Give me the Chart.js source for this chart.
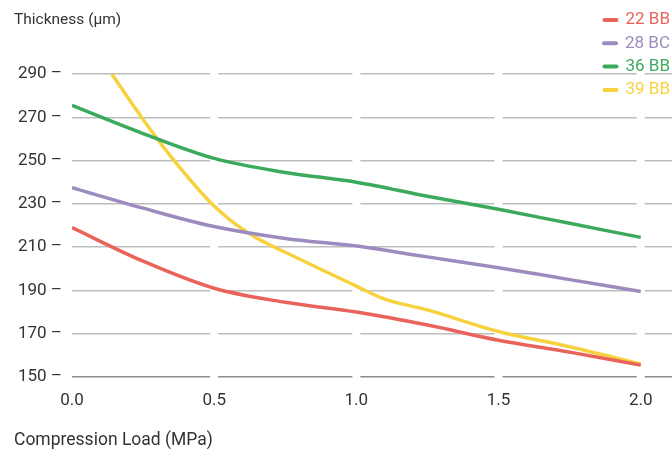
<!DOCTYPE html>
<html>
<head>
<meta charset="utf-8">
<script src="https://cdn.jsdelivr.net/npm/chart.js@4/dist/chart.umd.min.js"></script>
<style>
	html, body { margin: 0; padding: 0; background: #fff; }
	#wrap { width: 672px; height: 454px; position: relative; }
</style>
</head>
<body>
<div id="wrap"><canvas id="chart"></canvas></div>
<script>
const loadX = [0, 0.25, 0.5, 0.75, 1.0, 1.25, 1.5, 1.75, 2.0];
const bb22 = [219, 203.5, 191, 184.5, 180, 174, 167, 161.5, 155.5];
const bc28 = [237.5, 228, 219.5, 214, 210.5, 205.5, 200.5, 195, 189.5];
const bb36 = [275.5, 262.5, 251, 244.5, 240, 233.5, 227.5, 221, 214.5];
const yellowX = [0.14, 0.25, 0.35, 0.5, 0.62, 0.8, 1.0, 1.1, 1.25, 1.5, 1.75, 2.0];
const bb39 = [290, 269, 251.5, 229, 216.5, 204.5, 192, 186, 181, 171, 164, 156];
const yTicks = [150, 170, 190, 210, 230, 250, 270, 290];
const seriesNames = ["22 BB", "28 BC", "36 BB", "39 BB"];
const colors = ["#ea635a", "#9c8bbf", "#3caa5d", "#f8d23e"];

const font = "Roboto, 'Noto Sans', sans-serif";

function points(xs, ys) {
	return xs.map((x, i) => ({ x: x, y: ys[i] }));
}

function makeSet(i, data) {
	return {
		label: seriesNames[i],
		data: data,
		borderColor: colors[i],
		backgroundColor: colors[i],
		borderWidth: 3.5,
		pointRadius: 0,
		cubicInterpolationMode: "monotone",
		fill: false
	};
}

// white notches in the grid lines at each x tick
const gapPlugin = {
	id: "gaps",
	beforeDatasetsDraw(chart) {
		const ctx = chart.ctx;
		const area = chart.chartArea;
		const xs = chart.scales.x;
		ctx.save();
		ctx.fillStyle = "#fff";
		xs.ticks.forEach(t => {
			if (t.value === 0) return;
			const px = xs.getPixelForValue(t.value);
			ctx.fillRect(px - 4, area.top - 3, 8, area.bottom - area.top + 6);
		});
		ctx.restore();
	}
};

const textPlugin = {
	id: "texts",
	afterDraw(chart) {
		const ctx = chart.ctx;
		ctx.save();
		ctx.fillStyle = "#333";
		ctx.textBaseline = "middle";
		ctx.textAlign = "left";
		ctx.font = "15.5px " + font;
		ctx.fillText("Thickness (µm)", 14, 20);
		ctx.font = "17.5px " + font;
		ctx.fillText("Compression Load (MPa)", 14, 441);

		ctx.font = "17px " + font;
		ctx.textAlign = "right";
		chart.data.datasets.forEach((ds, i) => {
			const y = 20 + i * 23.3;
			ctx.fillStyle = colors[i];
			const w = ctx.measureText(ds.label).width;
			const right = 670;
			ctx.fillText(ds.label, right, y);
			ctx.strokeStyle = colors[i];
			ctx.lineWidth = 4;
			ctx.lineCap = "round";
			ctx.beginPath();
			ctx.moveTo(right - w - 21, y);
			ctx.lineTo(right - w - 9, y);
			ctx.stroke();
		});
		ctx.restore();
	}
};

new Chart(document.getElementById("chart"), {
	type: "line",
	data: {
		datasets: [
			makeSet(0, points(loadX, bb22)),
			makeSet(1, points(loadX, bc28)),
			makeSet(2, points(loadX, bb36)),
			makeSet(3, points(yellowX, bb39))
		]
	},
	options: {
		responsive: true,
		maintainAspectRatio: false,
		animation: false,
		layout: { padding: { top: 74, right: 0, left: 0, bottom: 0 } },
		plugins: {
			legend: { display: false },
			tooltip: { enabled: false }
		},
		scales: {
			x: {
				type: "linear",
				min: 0,
				max: 2.11,
				border: { display: false },
				grid: { display: false, drawTicks: false },
				afterFit: s => { s.height = 77; },
				ticks: {
					stepSize: 0.5,
					includeBounds: false,
					padding: 14,
					color: "#333",
					font: { family: font, size: 17 },
					callback: v => Number(v).toFixed(1)
				}
			},
			y: {
				min: 150,
				max: 290,
				border: { display: false },
				afterFit: s => { s.width = 72; },
				afterBuildTicks: s => { s.ticks = yTicks.map(v => ({ value: v })); },
				grid: {
					drawTicks: false,
					lineWidth: 1.5,
					color: c => c.tick && c.tick.value === 150 ? "#8c8c8c" : "#bdbdbd"
				},
				ticks: {
					padding: 10,
					color: "#333",
					font: { family: font, size: 17 },
					callback: v => v + " –"
				}
			}
		}
	},
	plugins: [gapPlugin, textPlugin]
});
</script>
</body>
</html>
